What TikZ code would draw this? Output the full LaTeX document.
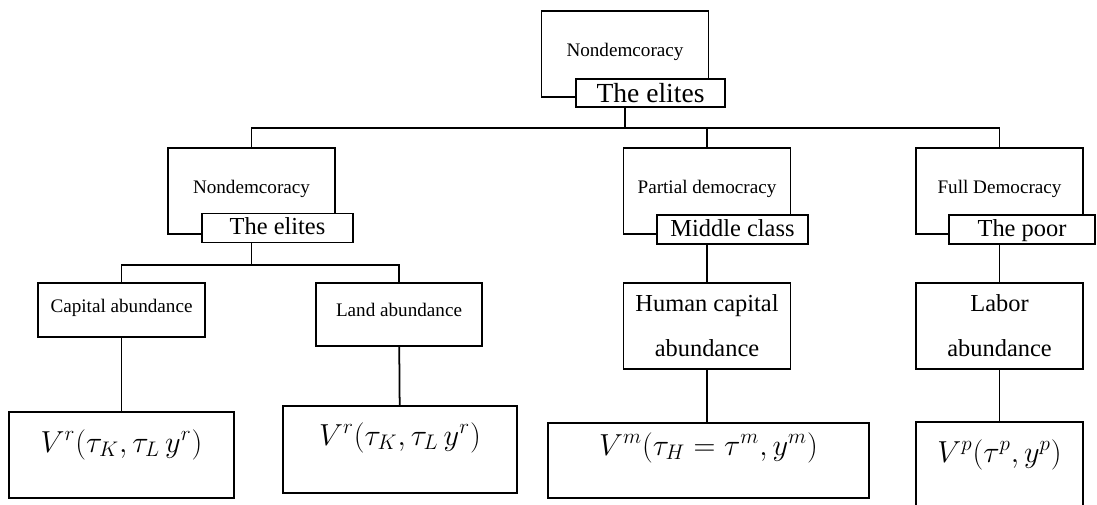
\documentclass[tikz,border=0pt]{standalone}
\usepackage{fontspec}
\setmainfont{Liberation Serif}
\usepackage{amsmath}

\begin{document}
\begin{tikzpicture}[x=0.02cm, y=-0.02cm,
  regime/.style={draw, line width=1pt, fill=white, minimum width=3.34cm, inner ysep=0pt,
    text height=0.9cm, text depth=0.82cm, font=\fontsize{10.9}{13}\selectfont},
  group/.style={draw, line width=1pt, fill=white, minimum width=3.02cm, inner ysep=0pt,
    text height=0.42cm, text depth=0.16cm, font=\fontsize{13.9}{16}\selectfont},
  factor/.style={draw, line width=1pt, fill=white, minimum width=3.34cm},
  payoff/.style={draw, line width=1pt, fill=white, inner ysep=0pt, font=\fontsize{17.5}{20}\selectfont},
  conn/.style={-, line width=1pt}]

\useasboundingbox (0,0) rectangle (1097,504);
\clip (0,0) rectangle (1097,504);

% first level
\node[regime] (top) at (625,54) {Nondemcoracy};
\node[group, minimum width=2.98cm, text height=0.46cm, text depth=0.1cm,
  font=\fontsize{15.7}{18}\selectfont] (topg) at (650.5,93) {The elites};

% second level
\node[regime] (nd) at (251.5,191) {Nondemcoracy};
\node[group] (ndg) at (277.5,228) {The elites};
\node[regime] (pd) at (707,191) {Partial democracy};
\node[group] (pdg) at (732.5,229.5) {Middle class};
\node[regime] (fd) at (999.5,191) {Full Democracy};
\node[group, minimum width=2.92cm] (fdg) at (1022,229.5) {The poor};

% factor endowments
\node[factor, inner ysep=0pt, text height=0.58cm, text depth=0.5cm,
  font=\fontsize{10.9}{13}\selectfont] (cap) at (121.5,310) {Capital abundance};
\node[factor, minimum width=3.32cm, inner ysep=0pt, text height=0.66cm, text depth=0.6cm,
  font=\fontsize{10.9}{13}\selectfont] (land) at (399,314.5) {Land abundance};
\node[factor, minimum height=1.72cm, align=center,
  font=\fontsize{13.9}{25.6}\selectfont] (hum) at (707,326) {Human capital\\abundance};
\node[factor, minimum height=1.72cm, align=center,
  font=\fontsize{13.9}{25.6}\selectfont] (lab) at (999.5,326) {Labor\\abundance};

% payoffs
\node[payoff, minimum width=4.5cm, text height=0.8cm, text depth=0.92cm] (vc) at (121.5,455)
  {$V^r(\tau_K,\tau_L\,y^r)$};
\node[payoff, minimum width=4.68cm, text height=0.78cm, text depth=0.96cm] (vl) at (400,449.5)
  {$V^r(\tau_K,\tau_L\,y^r)$};
\node[payoff, minimum width=6.42cm, text height=0.64cm, text depth=0.86cm] (vh) at (708.5,460.5)
  {$V^m(\tau_H=\tau^m,y^m)$};
\node[payoff, minimum width=3.34cm, text height=0.8cm, text depth=0.92cm] (vp) at (999.5,465)
  {$V^p(\tau^p,y^p)$};

% tree
\path (top.south) ++(0,30) coordinate (hub);
\path (nd.south) ++(0,30) coordinate (hub2);

\draw[conn] (topg.south -| top.south) to (hub);
\draw[conn] (hub) -| (nd.north);
\draw[conn] (hub) -| (pd.north);
\draw[conn] (hub) -| (fd.north);

\draw[conn] (ndg.south -| nd.south) to (hub2);
\draw[conn] (hub2) -| (cap.north);
\draw[conn] (hub2) -| (land.north);

\draw[conn] (pdg.south -| pd.south) to (hum.north);
\draw[conn] (fdg.south -| fd.south) to (lab.north);

\draw[conn] (cap) to (vc);
\draw[conn] (land) to (vl);
\draw[conn] (hum.south) to (hum.south |- vh.north);
\draw[conn] (lab) to (vp);

\end{tikzpicture}
\end{document}
